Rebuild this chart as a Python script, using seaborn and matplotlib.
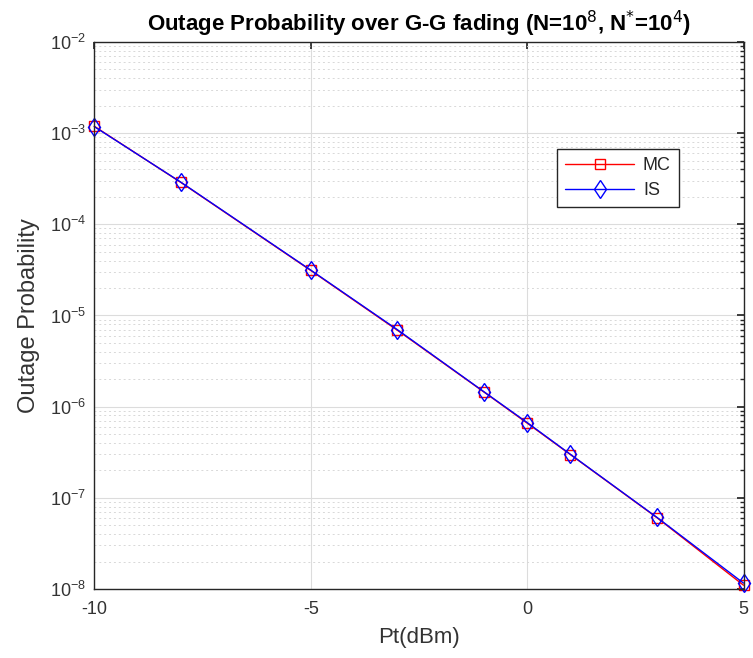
import numpy as np
import pandas as pd
import matplotlib
matplotlib.use("Agg")
import matplotlib.pyplot as plt
import seaborn as sns
from matplotlib.ticker import LogLocator, NullFormatter

pt_dbm = [-10, -8, -5, -3, -1, 0, 1, 3, 5]
mc_vals = [1.19e-3, 2.88e-4, 3.12e-5, 6.9e-6, 1.45e-6, 6.6e-7, 2.98e-7, 6.05e-8, 1.10e-8]
is_vals = [1.18e-3, 2.90e-4, 3.15e-5, 7.0e-6, 1.46e-6, 6.7e-7, 3.0e-7, 6.1e-8, 1.16e-8]
series_names = ["MC", "IS"]

sns.set_theme(style="white")
plt.rcParams['font.family'] = ['Liberation Sans', 'DejaVu Sans']
plt.rcParams['axes.unicode_minus'] = False

fig = plt.figure(figsize=(7.53, 6.58), dpi=100)
ax = fig.add_axes([0.1252, 0.1049, 0.8622, 0.8313])

df = pd.DataFrame({
    "Pt": pt_dbm * 2,
    "P": mc_vals + is_vals,
    "series": [series_names[0]] * len(pt_dbm) + [series_names[1]] * len(pt_dbm),
})

sns.lineplot(data=df[df.series == "MC"], x="Pt", y="P", ax=ax, color="red",
             marker="s", markersize=7, markerfacecolor="none", markeredgecolor="red",
             markeredgewidth=1.0, linewidth=1.0, label="MC", clip_on=False)
sns.lineplot(data=df[df.series == "IS"], x="Pt", y="P", ax=ax, color="blue",
             marker="d", markersize=9.5, markerfacecolor="none", markeredgecolor="blue",
             markeredgewidth=1.0, linewidth=1.0, label="IS", clip_on=False)

ax.set_yscale("log")
ax.set_xlim(-10, 5)
ax.set_ylim(1e-8, 1e-2)
ax.set_xticks([-10, -5, 0, 5])
ax.yaxis.set_major_locator(LogLocator(base=10, numticks=10))
ax.yaxis.set_minor_locator(LogLocator(base=10, subs=np.arange(2, 10), numticks=100))
ax.yaxis.set_minor_formatter(NullFormatter())

ax.grid(True, which="major", color="#dcdcdc", linewidth=0.8)
ax.grid(True, which="minor", axis="y", color="#d8d8d8", linestyle=(0, (2, 3)), linewidth=0.7)
ax.set_axisbelow(True)

for s in ax.spines.values():
    s.set_color("#262626")
    s.set_linewidth(1.0)

ax.tick_params(which="both", direction="in", top=True, right=True, colors="#262626",
               labelsize=13, labelcolor="#333333")
ax.tick_params(which="major", length=5)
ax.tick_params(which="minor", length=3)
ax.tick_params(axis="x", pad=9)
ax.tick_params(axis="y", pad=6)

ax.set_xlabel("Pt(dBm)", fontsize=16, color="#333333", labelpad=6)
ax.set_ylabel("Outage Probability", fontsize=17, color="#333333", labelpad=7)
ax.set_title(r"Outage Probability over G-G fading (N=10$^{8}$, N$^{*}$=10$^{4}$)",
             fontsize=16, fontweight="bold", color="black", pad=8)

leg = ax.legend(loc="upper left", bbox_to_anchor=(0.699, 0.821), fontsize=13,
                frameon=True, fancybox=False, edgecolor="#262626", framealpha=1,
                handlelength=3.8, borderpad=0.45, labelspacing=0.45, handletextpad=0.5)
leg.get_frame().set_linewidth(1.0)

fig.savefig("out.png", dpi=100)
